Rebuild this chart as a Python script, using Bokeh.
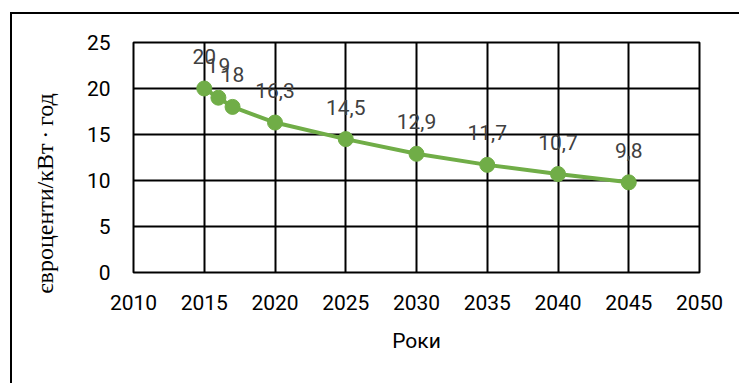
from bokeh.plotting import figure
from bokeh.models import Range1d, FixedTicker, ColumnDataSource, InlineStyleSheet
from bokeh.core.properties import value
from bokeh.embed import file_html
from bokeh.resources import INLINE

years = [2015, 2016, 2017, 2020, 2025, 2030, 2035, 2040, 2045]
values = [20, 19, 18, 16.3, 14.5, 12.9, 11.7, 10.7, 9.8]
labels = ["20", "19", "18", "16,3", "14,5", "12,9", "11,7", "10,7", "9,8"]
x_ticks = [2010, 2015, 2020, 2025, 2030, 2035, 2040, 2045, 2050]
y_ticks = [0, 5, 10, 15, 20, 25]
x_title = "Роки"
y_title = "євроценти/кВт\u2009·\u2009год"

src = ColumnDataSource(dict(x=years, y=values, label=labels))

p = figure(width=739, height=383, output_backend="svg", toolbar_location=None,
           x_range=Range1d(2010, 2050), y_range=Range1d(0, 25),
           min_border_left=133, min_border_right=40, min_border_top=42, min_border_bottom=111)
p.background_fill_color = "white"
p.border_fill_color = "white"
p.outline_line_color = "black"
p.outline_line_width = 2

for ax in (p.xaxis[0], p.yaxis[0]):
    ax.axis_line_color = None
    ax.major_tick_line_color = None
    ax.minor_tick_line_color = None
    ax.major_label_text_font = "Roboto"
    ax.major_label_text_font_size = "21px"
    ax.major_label_text_color = "black"

p.xaxis.ticker = FixedTicker(ticks=x_ticks)
p.yaxis.ticker = FixedTicker(ticks=y_ticks)
p.xaxis.major_label_standoff = 16
p.yaxis.major_label_standoff = 17

p.xaxis.axis_label = x_title
p.xaxis.axis_label_text_font = "Roboto"
p.xaxis.axis_label_text_font_size = "21px"
p.xaxis.axis_label_text_font_style = "normal"
p.xaxis.axis_label_text_color = "black"
p.xaxis.axis_label_standoff = 16

# trailing em spaces shift the visible title downwards, as in the reference
p.yaxis.axis_label = y_title + "\u2003\u2003\u2003"
p.yaxis.axis_label_text_font = "Liberation Serif"
p.yaxis.axis_label_text_font_size = "24px"
p.yaxis.axis_label_text_font_style = "normal"
p.yaxis.axis_label_text_color = "black"
p.yaxis.axis_label_standoff = 26

p.xgrid.ticker = FixedTicker(ticks=x_ticks)
p.ygrid.ticker = FixedTicker(ticks=y_ticks)
for g in (p.xgrid[0], p.ygrid[0]):
    g.grid_line_color = "black"
    g.grid_line_width = 2

p.line("x", "y", source=src, line_color="#70AD47", line_width=4)
p.scatter("x", "y", source=src, size=15, fill_color="#70AD47", line_color="#70AD47")
p.text("x", "y", text="label", source=src, text_align="center", text_baseline="alphabetic",
       y_offset=-32, text_font=value("Roboto"), text_font_size="21px", text_color="#404040")

p.stylesheets = [InlineStyleSheet(css="""
:host { position: relative; }
:host::after { content: ""; position: absolute; left: 10px; top: 12px;
  width: calc(100% - 10px); height: calc(100% - 12px);
  border-top: 2px solid black; border-left: 2px solid black;
  box-sizing: border-box; pointer-events: none; }
""")]

open("out.html", "w").write(file_html(p, INLINE))
